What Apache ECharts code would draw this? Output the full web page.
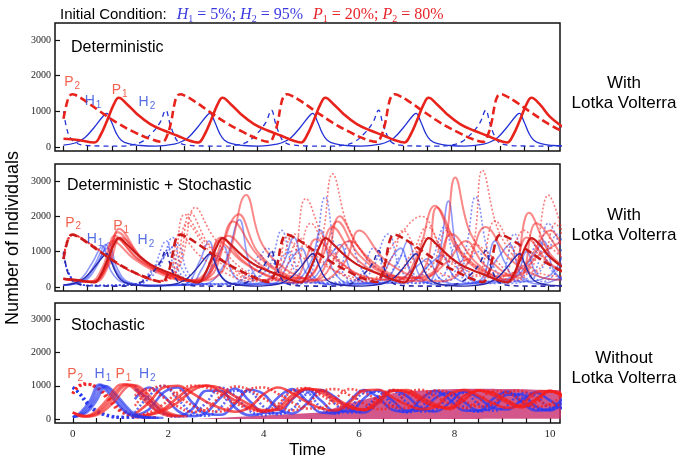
<!DOCTYPE html>
<html>
<head>
<meta charset="utf-8">
<title>Host-parasite dynamics</title>
<script src="https://cdn.jsdelivr.net/npm/echarts@6/dist/echarts.min.js"></script>
<style>
  html, body { margin: 0; padding: 0; background: #fff; }
  #chart { width: 685px; height: 460px; }
</style>
</head>
<body>
<div id="chart"></div>
<script>
// ---- deterministic Lotka-Volterra curves, [time, individuals] ----
var detH1 = [
  [0,50],[0.24,110],[0.44,260],[0.64,560],[0.79,820],[0.89,940],[0.99,700],[1.09,380],[1.19,190],[1.34,90],[1.59,40],[1.89,22],
  [2.12,45],[2.37,110],[2.57,260],[2.77,560],[2.92,820],[3.02,940],[3.12,700],[3.22,380],[3.32,190],[3.47,90],[3.72,40],[4.02,22],
  [4.24,45],[4.49,110],[4.69,260],[4.89,560],[5.04,820],[5.14,940],[5.24,700],[5.34,380],[5.44,190],[5.59,90],[5.84,40],[6.14,22],
  [6.37,45],[6.62,110],[6.82,260],[7.02,560],[7.17,820],[7.27,940],[7.37,700],[7.47,380],[7.57,190],[7.72,90],[7.97,40],[8.27,22],
  [8.50,45],[8.75,110],[8.95,260],[9.15,560],[9.30,820],[9.40,940],[9.50,700],[9.60,380],[9.70,190],[9.85,90],[10.10,40],[10.40,22]
];
var detH2 = [
  [0,1000],[0.06,560],[0.13,280],[0.24,130],[0.41,50],[0.8,25],[1.2,22],
  [1.41,55],[1.61,140],[1.81,370],[1.99,680],[2.11,1030],[2.19,680],[2.27,370],[2.37,140],[2.56,50],[2.91,25],[3.3,22],
  [3.59,55],[3.79,140],[3.99,370],[4.17,680],[4.29,1030],[4.37,680],[4.45,370],[4.55,140],[4.74,50],[5.09,25],[5.5,22],
  [5.80,55],[6.00,140],[6.20,370],[6.38,680],[6.50,1030],[6.58,680],[6.66,370],[6.76,140],[6.95,50],[7.30,25],[7.7,22],
  [8.01,55],[8.21,140],[8.41,370],[8.59,680],[8.71,1030],[8.79,680],[8.87,370],[8.97,140],[9.16,50],[9.51,25],[9.9,22],[10.4,45]
];
var detP1 = [
  [0,230],[0.3,195],[0.64,125],[0.76,320],[0.90,740],[1.04,1200],[1.14,1380],[1.31,1200],[1.52,920],[1.79,640],[2.07,460],[2.34,320],[2.59,180],
  [2.78,125],[2.90,320],[3.04,740],[3.18,1200],[3.28,1380],[3.45,1200],[3.66,920],[3.93,640],[4.21,460],[4.48,320],[4.73,180],
  [4.90,125],[5.02,320],[5.16,740],[5.30,1200],[5.40,1380],[5.57,1200],[5.78,920],[6.05,640],[6.33,460],[6.60,320],[6.85,180],
  [7.03,125],[7.15,320],[7.29,740],[7.43,1200],[7.53,1380],[7.70,1200],[7.91,920],[8.18,640],[8.46,460],[8.73,320],[8.98,180],
  [9.15,125],[9.27,320],[9.41,740],[9.55,1200],[9.65,1380],[9.82,1200],[10.03,850],[10.3,560]
];
var detP2 = [
  [0,790],[0.06,1180],[0.12,1420],[0.18,1480],[0.26,1450],[0.42,1320],[0.75,1000],[1.1,680],[1.45,420],[1.78,230],
  [2.04,140],[2.14,330],[2.22,700],[2.28,1150],[2.34,1420],[2.41,1480],[2.5,1440],[2.68,1300],[3.0,1000],[3.35,680],[3.7,420],[4.0,230],
  [4.24,140],[4.34,330],[4.42,700],[4.48,1150],[4.54,1420],[4.61,1480],[4.7,1440],[4.88,1300],[5.2,1000],[5.55,680],[5.9,420],[6.2,230],
  [6.46,140],[6.56,330],[6.64,700],[6.70,1150],[6.76,1420],[6.83,1480],[6.92,1440],[7.1,1300],[7.42,1000],[7.77,680],[8.12,420],[8.42,230],
  [8.65,140],[8.75,330],[8.83,700],[8.89,1150],[8.95,1420],[9.02,1480],[9.11,1440],[9.29,1300],[9.61,1000],[9.96,680],[10.3,430]
];

// ---- panel 2: stochastic runs around the deterministic system ----
var mixP1 = [
  [[0,230],[0.6,150],[0.85,500],[1.06,1450],[1.5,820],[2.0,420],[2.6,170],[2.95,250],[3.2,1300],[3.7,700],[4.3,250],[4.8,120],[5.2,500],[5.55,1700],[6.0,850],[6.6,300],[7.1,150],[7.5,700],[7.7,2250],[8.2,1000],[8.8,350],[9.2,200],[9.55,1400],[10.0,700],[10.3,450]],
  [[0,240],[0.6,160],[0.9,600],[1.12,1550],[1.6,800],[2.1,380],[2.7,160],[3.1,400],[3.5,1850],[4.0,900],[4.6,300],[5.1,150],[5.4,600],[5.7,2000],[6.1,1100],[6.7,400],[7.3,160],[7.8,800],[8.08,3100],[8.4,1500],[9.0,500],[9.4,250],[9.75,1800],[10.3,800]],
  [[0,220],[0.65,140],[0.95,650],[1.18,1400],[1.7,700],[2.2,330],[2.8,170],[3.3,500],[3.77,2600],[4.1,1200],[4.7,400],[5.3,180],[5.8,700],[6.1,1600],[6.6,800],[7.2,300],[7.8,160],[8.3,600],[8.7,1700],[9.2,800],[9.8,300],[10.3,200]],
  [[0,230],[0.55,150],[0.82,600],[1.02,1300],[1.45,800],[1.95,400],[2.5,180],[2.9,350],[3.25,1400],[3.7,750],[4.3,280],[4.75,200],[5.0,800],[5.2,1350],[5.7,700],[6.3,260],[6.9,200],[7.3,900],[7.66,2300],[8.1,1100],[8.7,350],[9.2,150],[9.6,2100],[10.0,1000],[10.3,600]],
  [[0,230],[0.62,150],[0.92,700],[1.15,1650],[1.6,850],[2.2,350],[2.75,170],[3.0,300],[3.4,1450],[3.9,800],[4.5,300],[5.0,250],[5.35,900],[5.65,1850],[6.1,900],[6.8,300],[7.4,250],[7.9,700],[8.3,1300],[8.7,600],[9.3,300],[9.8,900],[10.3,1300]],
  [[0,225],[0.58,145],[0.88,550],[1.09,1380],[1.55,780],[2.05,400],[2.65,170],[3.05,450],[3.62,2060],[4.0,1000],[4.6,350],[5.2,200],[5.9,1300],[6.4,600],[7.0,250],[7.6,400],[8.0,1500],[8.5,700],[9.0,300],[9.5,600],[10.05,1600],[10.3,1100]]
];
var mixP2 = [
  [[0,800],[0.18,1480],[0.6,1180],[1.0,760],[1.5,380],[2.0,170],[2.25,400],[2.5,2050],[2.9,1300],[3.5,500],[4.0,200],[4.4,300],[4.75,1500],[5.2,900],[5.8,300],[6.3,150],[6.8,1200],[7.38,2000],[7.9,800],[8.5,300],[8.9,1870],[9.3,1000],[9.8,400],[10.3,300]],
  [[0,800],[0.2,1470],[0.62,1150],[1.05,720],[1.55,340],[2.05,160],[2.4,600],[2.72,2250],[3.1,1400],[3.7,500],[4.3,180],[4.7,500],[5.0,2500],[5.4,1300],[6.0,400],[6.6,200],[7.1,600],[7.5,1400],[8.0,700],[8.4,900],[8.64,3300],[9.0,1500],[9.6,500],[10.0,2600],[10.3,1500]],
  [[0,790],[0.17,1490],[0.58,1200],[0.95,800],[1.45,400],[1.95,180],[2.2,350],[2.4,1500],[2.8,900],[3.4,350],[3.9,160],[4.4,400],[4.6,1400],[5.0,800],[5.3,1200],[5.55,3200],[5.9,1600],[6.5,500],[7.1,200],[7.6,600],[7.9,1600],[8.3,800],[8.9,300],[9.4,200],[9.9,1200],[10.3,800]],
  [[0,800],[0.19,1480],[0.6,1160],[1.02,740],[1.52,360],[2.0,170],[2.35,500],[2.62,2100],[3.0,1200],[3.6,450],[4.2,190],[4.7,300],[5.1,1800],[5.5,900],[6.1,350],[6.7,200],[7.2,1000],[7.5,1700],[7.9,900],[8.5,350],[9.0,250],[9.5,1600],[9.9,800],[10.3,400]],
  [[0,800],[0.18,1480],[0.58,1190],[0.98,780],[1.48,390],[1.98,175],[2.3,450],[2.55,1800],[2.95,1100],[3.5,400],[4.0,200],[4.5,350],[4.85,1300],[5.3,700],[5.9,300],[6.4,200],[6.8,900],[7.0,1600],[7.4,800],[8.0,300],[8.5,1200],[8.8,900],[9.3,400],[9.8,500],[10.15,1800],[10.3,1400]]
];
var mixH1 = [
  [[0,50],[0.4,200],[0.65,650],[0.87,1200],[1.05,500],[1.3,120],[1.8,40],[2.6,60],[2.85,500],[3.05,950],[3.25,300],[3.6,60],[4.3,80],[4.7,800],[4.9,1100],[5.15,300],[5.5,60],[6.5,80],[6.9,700],[7.1,1300],[7.35,300],[7.7,60],[8.5,100],[9.0,900],[9.2,1200],[9.45,300],[9.8,80],[10.3,300]],
  [[0,50],[0.35,220],[0.6,700],[0.8,1150],[0.98,450],[1.25,110],[1.8,40],[2.5,80],[2.8,700],[3.0,1300],[3.2,400],[3.5,80],[4.0,100],[4.5,600],[4.75,1400],[5.0,400],[5.4,80],[6.4,120],[6.8,900],[6.95,1100],[7.2,300],[7.5,120],[7.75,900],[7.94,2430],[8.15,800],[8.5,150],[9.3,300],[9.55,1000],[9.8,300],[10.3,200]],
  [[0,50],[0.45,180],[0.7,620],[0.93,1250],[1.1,550],[1.35,130],[1.9,40],[2.9,80],[3.3,600],[3.63,1900],[3.85,600],[4.2,100],[5.0,150],[5.5,900],[5.7,1200],[5.95,400],[6.3,100],[7.1,120],[7.6,700],[7.8,900],[8.05,300],[8.4,100],[9.2,200],[9.7,900],[9.9,1300],[10.1,500],[10.3,200]],
  [[0,50],[0.42,190],[0.68,640],[0.9,1100],[1.08,480],[1.32,120],[1.85,40],[2.7,60],[3.1,650],[3.3,1150],[3.5,350],[3.85,80],[4.7,120],[5.1,700],[5.3,1600],[5.55,500],[5.9,100],[6.8,150],[7.3,600],[7.5,800],[7.75,250],[8.1,80],[8.6,200],[8.9,1300],[9.1,700],[9.4,150],[10.0,300],[10.3,900]]
];
var mixH2 = [
  [[0,950],[0.1,400],[0.3,90],[0.6,40],[1.4,60],[1.8,400],[2.12,1300],[2.3,500],[2.6,100],[3.3,60],[3.9,400],[4.2,1100],[4.45,400],[4.8,80],[5.1,300],[5.4,2550],[5.65,800],[6.0,150],[6.6,200],[7.0,900],[7.2,400],[7.6,100],[8.2,700],[8.5,2550],[8.8,800],[9.2,150],[9.7,400],[10.0,1800],[10.3,900]],
  [[0,950],[0.1,420],[0.3,95],[0.6,40],[1.5,70],[1.95,500],[2.25,1400],[2.45,500],[2.75,100],[3.6,80],[4.2,500],[4.5,1600],[4.75,500],[5.1,120],[6.0,200],[6.4,1100],[6.65,400],[7.0,100],[7.8,300],[8.1,1200],[8.35,400],[8.7,100],[9.4,200],[9.8,1300],[10.05,500],[10.3,200]],
  [[0,950],[0.1,410],[0.3,92],[0.6,40],[1.45,80],[1.9,600],[2.35,1200],[2.55,450],[2.85,90],[3.5,100],[3.9,600],[4.05,900],[4.3,300],[4.7,100],[5.6,300],[5.9,1300],[6.15,500],[6.5,120],[7.2,200],[7.6,800],[7.85,1700],[8.1,600],[8.4,120],[9.0,300],[9.3,1500],[9.55,500],[9.9,150],[10.3,700]],
  [[0,950],[0.1,400],[0.3,90],[0.6,40],[1.5,60],[2.0,700],[2.2,1150],[2.4,400],[2.7,80],[3.7,120],[4.4,700],[4.65,1000],[4.9,300],[5.3,100],[6.2,250],[6.7,1500],[6.95,500],[7.3,100],[8.0,200],[8.3,600],[8.55,1000],[8.8,300],[9.2,100],[9.8,400],[10.2,1500],[10.3,1200]]
];

// ---- panel 3: stochastic only, first cycle ----
var stoH1 = [
  [[0,60],[0.2,200],[0.4,550],[0.59,1030],[0.78,800],[0.95,500],[1.15,200],[1.4,60],[1.7,40]],
  [[0,60],[0.25,200],[0.45,560],[0.65,1000],[0.85,780],[1.02,480],[1.22,190],[1.48,60],[1.8,40]],
  [[0,60],[0.3,210],[0.5,560],[0.7,990],[0.9,760],[1.08,460],[1.28,180],[1.55,60],[1.9,40]],
  [[0,60],[0.15,190],[0.35,540],[0.55,1040],[0.72,820],[0.9,520],[1.1,210],[1.35,60],[1.6,40]]
];
var stoP1 = [
  [[0,200],[0.25,80],[0.5,200],[0.75,550],[1.0,980],[1.15,1040],[1.35,900],[1.6,500],[1.9,180],[2.2,80]],
  [[0,200],[0.3,80],[0.55,200],[0.82,560],[1.07,990],[1.22,1030],[1.42,880],[1.68,480],[1.98,170],[2.3,80]],
  [[0,200],[0.35,85],[0.62,210],[0.9,570],[1.15,980],[1.3,1020],[1.5,860],[1.76,470],[2.06,170],[2.4,80]],
  [[0,200],[0.2,80],[0.45,200],[0.7,560],[0.93,990],[1.08,1050],[1.28,910],[1.52,520],[1.82,190],[2.1,80]]
];
var stoP2 = [
  [[0,770],[0.12,980],[0.28,1050],[0.5,950],[0.75,620],[1.0,260],[1.3,90],[1.7,50]],
  [[0,780],[0.15,1000],[0.32,1040],[0.55,920],[0.82,580],[1.08,240],[1.38,85],[1.8,50]],
  [[0,760],[0.1,970],[0.24,1060],[0.46,970],[0.7,650],[0.95,280],[1.25,95],[1.6,50]]
];
var stoH2 = [
  [[0,950],[0.15,760],[0.3,480],[0.5,240],[0.75,100],[1.0,55],[1.3,60]],
  [[0,950],[0.18,720],[0.35,440],[0.55,220],[0.8,95],[1.05,50],[1.3,60]],
  [[0,950],[0.12,790],[0.26,520],[0.45,260],[0.7,110],[0.95,60],[1.3,60]]
];

// ---- panel 3: later runs, sampled every 0.3 time units ----
var bandTimes = [1.3,1.6,1.9,2.2,2.5,2.8,3.1,3.4,3.7,4.0,4.3,4.6,4.9,5.2,5.5,5.8,6.1,6.4,6.7,7.0,7.3,7.6,7.9,8.2,8.5,8.8,9.1,9.4,9.7,10.0,10.3];
var bandRed = [
  [150,500,950,1000,780,520,330,220,350,750,950,780,520,330,260,500,860,880,650,430,300,380,750,870,700,480,340,430,800,840,640],
  [100,200,450,800,1000,950,720,480,300,220,450,850,930,720,480,320,300,650,880,800,560,380,320,600,850,800,560,380,480,820,780],
  [90,150,300,650,950,1010,820,560,350,230,330,720,920,800,560,360,280,560,860,820,580,380,350,700,860,720,500,350,560,850,700],
  [700,900,650,380,220,300,700,980,880,620,400,260,420,820,900,720,470,300,380,780,880,680,460,330,520,840,800,560,380,450,780],
  [60,120,250,500,850,1000,930,680,440,270,280,620,900,870,620,410,270,480,840,870,660,440,300,580,860,790,570,380,590,840,650],
  [400,850,1000,700,420,250,230,520,900,950,760,500,320,330,620,900,800,560,380,330,640,860,780,550,380,450,800,850,620,420,420]
];
var bandBlue = [
  [900,600,200,90,300,850,850,350,120,200,650,900,550,200,180,550,870,650,280,220,600,850,580,260,250,600,820,520,260,300,700],
  [1000,450,150,80,150,500,950,700,250,120,350,850,800,350,170,330,780,820,420,200,360,770,720,360,220,440,800,660,310,280,640],
  [600,950,700,250,90,200,650,920,550,200,180,600,880,560,230,230,620,860,560,260,270,640,800,520,260,330,730,740,380,260,560],
  [200,700,1000,600,200,100,350,850,820,370,150,300,760,860,450,200,290,700,850,500,230,300,700,790,450,250,400,780,700,350,330],
  [100,300,800,950,500,160,130,450,880,750,300,170,460,870,660,290,200,510,860,700,320,230,500,830,650,340,290,560,800,560,290]
];
// envelope of the dense band
var envTimes = [2.6,3.0,3.4,3.8,4.2,4.6,5.0,5.5,6.0,6.5,7.0,7.5,8.0,8.5,9.0,9.5,10.0,10.3];
var envLow   = [400,250,120,80,70,70,80,90,100,110,120,130,140,150,150,160,160,160];
var envHigh  = [600,800,920,960,980,970,950,940,940,920,900,900,880,880,870,860,860,860];

// curve labels: name, time, level
var labels1 = [['P2',0.18,1820],['H1',0.61,1290],['P1',1.16,1600],['H2',1.72,1260]];
var labels2 = [['P2',0.2,1820],['H1',0.65,1345],['P1',1.19,1710],['H2',1.70,1316]];
var labels3 = [['P2',0.05,1350],['H1',0.63,1350],['P1',1.06,1350],['H2',1.56,1350]];

var yTicks = [0, 1000, 2000, 3000];
var xTicks = [0,0.5,1,1.5,2,2.5,3,3.5,4,4.5,5,5.5,6,6.5,7,7.5,8,8.5,9,9.5,10];
var xLabels = [0, 2, 4, 6, 8, 10];

var RED = '#e8231c', BLUE = '#2433d6';
var SANS = 'Liberation Sans', SERIF = 'Liberation Serif';

function pairs(times, values) {
    return times.map(function (t, i) { return [t, values[i]]; });
}

function curve(idx, data, color, width, dash, opacity) {
    return {
        type: 'line', xAxisIndex: idx, yAxisIndex: idx,
        data: data, symbol: 'none', smooth: 0.4,
        silent: true,
        lineStyle: { color: color, width: width, type: dash || 'solid', opacity: opacity == null ? 1 : opacity }
    };
}

function labelSeries(idx, list) {
    return {
        type: 'scatter', xAxisIndex: idx, yAxisIndex: idx, symbolSize: 0, silent: true, z: 10,
        data: list.map(function (l) { return { name: l[0], value: [l[1], l[2]] }; }),
        label: {
            show: true, position: 'inside',
            formatter: function (p) {
                var k = p.name.charAt(0) === 'P' ? 'p' : 'h';
                return '{' + k + 'm|' + p.name.charAt(0) + '}{' + k + 's|' + p.name.charAt(1) + '}';
            },
            rich: {
                pm: { color: '#ee3a22', fontSize: 14, fontFamily: SANS },
                ps: { color: '#ee3a22', fontSize: 10, fontFamily: SANS, padding: [8, 0, 0, 1] },
                hm: { color: '#2a48dc', fontSize: 14, fontFamily: SANS },
                hs: { color: '#2a48dc', fontSize: 10, fontFamily: SANS, padding: [8, 0, 0, 1] }
            }
        }
    };
}

var series = [];

// panel 1: deterministic
series.push(curve(0, detH1, BLUE, 1.3));
series.push(curve(0, detH2, BLUE, 1.3, [5, 4]));
series.push(curve(0, detP1, RED, 2.6));
series.push(curve(0, detP2, RED, 2.6, [8, 4]));
series.push(labelSeries(0, labels1));

// panel 2: stochastic runs, deterministic drawn on top
mixH2.forEach(function (d) { series.push(curve(1, d, 'rgb(50,70,245)', 1.6, [2, 2], 0.6)); });
mixH1.forEach(function (d) { series.push(curve(1, d, 'rgb(50,70,245)', 1.6, 'solid', 0.55)); });
mixP2.forEach(function (d) { series.push(curve(1, d, 'rgb(245,40,40)', 1.6, [2, 2], 0.6)); });
mixP1.forEach(function (d) { series.push(curve(1, d, 'rgb(245,40,40)', 2, 'solid', 0.55)); });
series.push(curve(1, detH1, '#2a2aa8', 1.4));
series.push(curve(1, detH2, '#2a2aa8', 1.6, [5, 4]));
series.push(curve(1, detP1, '#cc1a1a', 2.2));
series.push(curve(1, detP2, '#cc1a1a', 2.6, [8, 4]));
series.push(labelSeries(1, labels2));

// panel 3: band fill, later runs, then first cycle
series.push({
    type: 'line', xAxisIndex: 2, yAxisIndex: 2, stack: 'env', symbol: 'none', silent: true, smooth: 0.3,
    data: pairs(envTimes, envLow), lineStyle: { opacity: 0 }
});
series.push({
    type: 'line', xAxisIndex: 2, yAxisIndex: 2, stack: 'env', symbol: 'none', silent: true, smooth: 0.3,
    data: pairs(envTimes, envHigh.map(function (v, i) { return v - envLow[i]; })),
    lineStyle: { opacity: 0 }, areaStyle: { color: 'rgb(200,45,110)', opacity: 0.8 }
});
bandBlue.forEach(function (v, i) {
    series.push(curve(2, pairs(bandTimes, v), 'rgb(40,55,245)', 2.6, i % 2 ? [2, 2] : 'solid', 0.75));
});
bandRed.forEach(function (v, i) {
    series.push(curve(2, pairs(bandTimes, v), 'rgb(245,30,30)', 2.6, i % 2 ? [2, 2] : 'solid', 0.75));
});
stoH2.forEach(function (d) { series.push(curve(2, d, 'rgb(40,55,240)', 3, [2, 3], 0.85)); });
stoP2.forEach(function (d) { series.push(curve(2, d, 'rgb(245,35,35)', 3, [2, 3], 0.85)); });
stoH1.forEach(function (d) { series.push(curve(2, d, 'rgb(40,55,240)', 2.4, 'solid', 0.65)); });
stoP1.forEach(function (d) { series.push(curve(2, d, 'rgb(245,35,35)', 2.4, 'solid', 0.65)); });
series.push(labelSeries(2, labels3));

function xAxis(idx, min, max, withLabels) {
    return {
        type: 'value', gridIndex: idx, min: min, max: max, position: 'bottom',
        axisLine: { show: false, onZero: false }, splitLine: { show: false },
        axisTick: { show: true, inside: true, length: 5, customValues: xTicks, lineStyle: { color: '#111', width: 1.2 } },
        axisLabel: {
            show: withLabels, customValues: xLabels, margin: 6,
            fontFamily: SERIF, fontSize: 11, color: '#222'
        },
        name: withLabels ? 'Time' : '', nameLocation: 'middle', nameGap: 19,
        nameTextStyle: { fontFamily: SANS, fontSize: 17, color: '#000' }
    };
}

function yAxis(idx) {
    return {
        type: 'value', gridIndex: idx, min: -115, max: 3480, position: 'left',
        axisLine: { show: false, onZero: false }, splitLine: { show: false },
        axisTick: { show: true, inside: true, length: 5, customValues: yTicks, lineStyle: { color: '#111', width: 1.2 } },
        axisLabel: {
            customValues: yTicks, margin: 4, fontFamily: SERIF, fontSize: 10, color: '#222',
            formatter: function (v) { return String(v); }
        }
    };
}

var frame = { left: 55, width: 505, show: true, borderColor: '#111', borderWidth: 1.5, backgroundColor: 'transparent' };

var chart = echarts.init(document.getElementById('chart'), null, { renderer: 'canvas' });
chart.setOption({
    animation: false,
    backgroundColor: '#fff',
    title: [
        {
            left: 55, top: 1,
            text: '{n|Initial Condition:}  {hv|H}{hs|1}{h| = 5%; }{hv|H}{hs|2}{h| = 95%}  {pv|P}{ps|1}{p| = 20%; }{pv|P}{ps|2}{p| = 80%}',
            textStyle: {
                fontWeight: 'normal',
                rich: {
                    n: { fontFamily: SANS, fontSize: 15, fontWeight: 'normal', color: '#000' },
                    hv: { fontFamily: SERIF, fontStyle: 'italic', fontWeight: 'normal', fontSize: 16, color: '#3a3ae0' },
                    hs: { fontFamily: SERIF, fontWeight: 'normal', fontSize: 10, color: '#3a3ae0', padding: [8, 0, 0, 0] },
                    h: { fontFamily: SERIF, fontWeight: 'normal', fontSize: 16, color: '#3a3ae0' },
                    pv: { fontFamily: SERIF, fontStyle: 'italic', fontWeight: 'normal', fontSize: 16, color: '#e8242a' },
                    ps: { fontFamily: SERIF, fontWeight: 'normal', fontSize: 10, color: '#e8242a', padding: [8, 0, 0, 0] },
                    p: { fontFamily: SERIF, fontWeight: 'normal', fontSize: 16, color: '#e8242a' }
                }
            }
        },
        { left: 66, top: 35, text: 'Deterministic', textStyle: { fontFamily: SANS, fontSize: 16, fontWeight: 'normal', color: '#000' } },
        { left: 62, top: 173, text: 'Deterministic + Stochastic', textStyle: { fontFamily: SANS, fontSize: 16, fontWeight: 'normal', color: '#000' } },
        { left: 66, top: 313, text: 'Stochastic', textStyle: { fontFamily: SANS, fontSize: 16, fontWeight: 'normal', color: '#000' } }
    ],
    graphic: [
        { type: 'text', x: 13, y: 238, rotation: Math.PI / 2,
          style: { text: 'Number of Individuals', font: '18px "Liberation Sans"', fill: '#000', textAlign: 'center', textVerticalAlign: 'middle' } },
        { type: 'text', x: 624, y: 93,
          style: { text: 'With\nLotka Volterra', font: '17px "Liberation Sans"', lineHeight: 20, fill: '#000', textAlign: 'center', textVerticalAlign: 'middle' } },
        { type: 'text', x: 624, y: 225,
          style: { text: 'With\nLotka Volterra', font: '17px "Liberation Sans"', lineHeight: 20, fill: '#000', textAlign: 'center', textVerticalAlign: 'middle' } },
        { type: 'text', x: 624, y: 368,
          style: { text: 'Without\nLotka Volterra', font: '17px "Liberation Sans"', lineHeight: 20, fill: '#000', textAlign: 'center', textVerticalAlign: 'middle' } }
    ],
    grid: [
        Object.assign({ top: 23, height: 128 }, frame),
        Object.assign({ top: 164, height: 127 }, frame),
        Object.assign({ top: 303, height: 128 }, frame)
    ],
    xAxis: [xAxis(0, -0.175, 10.24, false), xAxis(1, -0.175, 10.24, false), xAxis(2, -0.373, 10.21, true)],
    yAxis: [yAxis(0), yAxis(1), yAxis(2)],
    series: series
});
</script>
</body>
</html>
